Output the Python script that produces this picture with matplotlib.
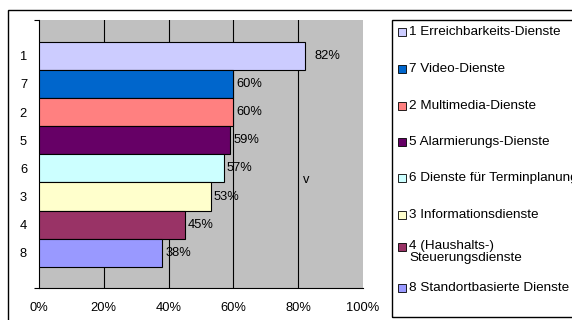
import matplotlib
matplotlib.use("Agg")
import matplotlib.pyplot as plt
from matplotlib.patches import Rectangle

plt.rcParams["font.family"] = ["Liberation Sans", "DejaVu Sans"]

# ---- data (top to bottom) ----
codes = ["1", "7", "2", "5", "6", "3", "4", "8"]
names = [
    "1 Erreichbarkeits-Dienste",
    "7 Video-Dienste",
    "2 Multimedia-Dienste",
    "5 Alarmierungs-Dienste",
    "6 Dienste für Terminplanung",
    "3 Informationsdienste",
    "4 (Haushalts-)\nSteuerungsdienste",
    "8 Standortbasierte Dienste",
]
values = [82, 60, 60, 59, 57, 53, 45, 38]
colors = ["#CCCCFF", "#0066CC", "#FF8080", "#660066",
          "#CCFFFF", "#FFFFCC", "#993366", "#9999FF"]
x_ticks = [0, 20, 40, 60, 80, 100]

FS = 9.3
LEG_FS = 9.7

fig = plt.figure(figsize=(5.72, 3.2), dpi=100)
W, H = 572, 320

# outer chart border
fig.add_artist(Rectangle((8 / W, -0.2), 1.2, 1 - 10 / H + 0.2,
                         transform=fig.transFigure, fill=False,
                         edgecolor="black", linewidth=1.0))

ax = fig.add_axes([39 / W, 1 - 288 / H, 324 / W, 268 / H])
ax.set_facecolor("#C0C0C0")

ypos = list(range(len(values)))
ax.barh(ypos, values, height=1.0, color=colors, edgecolor="black",
        linewidth=0.8, zorder=3)

for x in x_ticks[1:-1]:
    ax.axvline(x, color="black", linewidth=0.8, zorder=1)

# data labels (the 82% label sits a bit further out)
pads = [10, 3, 3, 3, 3, 3, 3, 3]
for y, v, p in zip(ypos, values, pads):
    ax.annotate(f"{v}%", (v, y), xytext=(p * 0.72, 0), textcoords="offset points",
                va="center", ha="left", fontsize=FS, zorder=4)

ax.text(81.6, 4.4, "v", fontsize=FS, va="center", ha="left", zorder=4)

ax.set_xlim(0, 100)
ax.set_ylim(8.25, -1.27)
ax.set_xticks(x_ticks)
ax.set_xticklabels([f"{t}%" for t in x_ticks], fontsize=FS)
ax.set_yticks(ypos)
ax.set_yticklabels(codes, fontsize=FS)
ax.tick_params(axis="y", length=0, pad=8.6)
ax.tick_params(axis="x", length=0, pad=10)
ax.set_yticks([-1.27, 8.25], minor=True)
ax.tick_params(axis="y", which="minor", length=3.6, width=0.8, direction="out")
ax.set_xticks([0], minor=True)
ax.tick_params(axis="x", which="minor", length=2.5, width=0.8, direction="out")

for s in ["top", "right"]:
    ax.spines[s].set_visible(False)
for s in ["left", "bottom"]:
    ax.spines[s].set_linewidth(0.8)
    ax.spines[s].set_color("black")

# ---- legend box, drawn by hand to mimic the spreadsheet layout ----
fig.add_artist(Rectangle((392 / W, 1 - 317 / H), 0.5, 297 / H,
                         transform=fig.transFigure, fill=False,
                         edgecolor="black", linewidth=1.0))
leg_y = [32, 69, 106, 142, 178, 215, 247, 288]
for name, c, yy in zip(names, colors, leg_y):
    fig.add_artist(Rectangle((398 / W, 1 - (yy + 4) / H), 8 / W, 8 / H,
                             transform=fig.transFigure, facecolor=c,
                             edgecolor="black", linewidth=0.6))
    if "\n" in name:
        fig.text(409 / W, 1 - (yy - 7) / H, name, fontsize=LEG_FS, va="top",
                 ha="left", linespacing=1.0)
    else:
        fig.text(409 / W, 1 - yy / H, name, fontsize=LEG_FS, va="center",
                 ha="left")

plt.savefig("out.png", dpi=100)
